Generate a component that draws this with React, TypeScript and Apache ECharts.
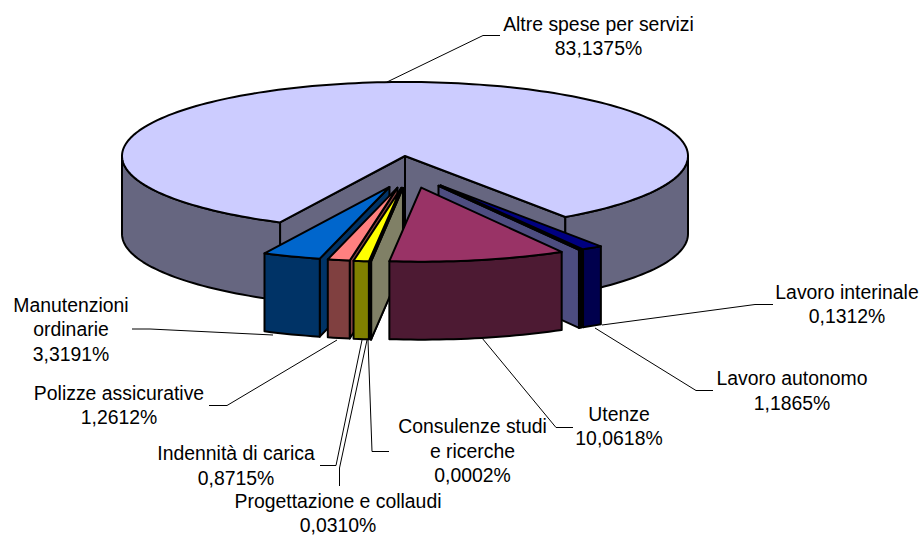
import React, { useEffect, useRef } from "react";
import * as echarts from "echarts";

const sliceNames = [
  "Altre spese per servizi",
  "Lavoro autonomo",
  "Lavoro interinale",
  "Utenze",
  "Consulenze studi e ricerche",
  "Progettazione e collaudi",
  "Indennità di carica",
  "Polizze assicurative",
  "Manutenzioni ordinarie",
];
const sliceValues = [83.1375, 1.1865, 0.1312, 10.0618, 0.0002, 0.031, 0.8715, 1.2612, 3.3191];
const topColors = ["#CCCCFF", "#000080", "#9999FF", "#993366", "#FFFFCC", "#CCFFFF", "#FFFF00", "#FF8080", "#0066CC"];
const sideColors = ["#666680", "#00004D", "#4D4D80", "#4D1A33", "#808066", "#668080", "#808000", "#804040", "#003366"];
const drawOrder = [0, 1, 2, 8, 7, 6, 5, 4, 3];

const labelLines: string[][] = [
  ["Altre spese per servizi"],
  ["Lavoro autonomo"],
  ["Lavoro interinale"],
  ["Utenze"],
  ["Consulenze studi", "e ricerche"],
  ["Progettazione e collaudi"],
  ["Indennità di carica"],
  ["Polizze assicurative"],
  ["Manutenzioni", "ordinarie"],
];
const labelAnchors: number[][] = [
  [598.5, 23.5], [792, 378], [847, 291.5], [619, 413.5], [472.5, 426], [338, 500.5], [236, 453], [119, 392.5], [71, 304.5],
];
const leaders: number[][][] = [
  [[500, 35.5], [483, 35.5], [387, 82]],
  [[713, 390.5], [696, 390.5], [595, 328]],
  [[773, 304.5], [755, 304.5], [602, 325]],
  [[573, 427.5], [556, 427.5], [482, 338]],
  [[389, 451.5], [372, 451.5], [368, 340]],
  [[339.5, 486], [339.5, 468], [367, 340]],
  [[320, 465.5], [336, 465.5], [362, 340]],
  [[209, 405.5], [227, 405.5], [337, 340]],
  [[132, 329], [150, 329], [273, 335]],
];

const CX = 405, CY = 156, RX = 283, RY = 74, DEPTH = 78;
const START_DEG = 206.2, EX = 58, SHIFT_X = 4.5, EY = 17, SHIFT_Y = 15;
const FONT_SIZE = 19.4, LINE_GAP = 24.5;
const rad = (d: number) => (d * Math.PI) / 180;

const total = sliceValues.reduce((a, b) => a + b, 0);
const spans: number[][] = [];
{
  let a = START_DEG;
  sliceValues.forEach((v) => {
    const b = a + (v / total) * 360;
    spans.push([a, b]);
    a = b;
  });
}

function renderSlice(_p: any, api: any) {
  const idx = api.value(0) as number;
  const [a1, a2] = spans[idx];
  const mid = (a1 + a2) / 2;
  const exploded = idx !== 0;
  const ox = CX + (exploded ? SHIFT_X + EX * Math.sin(rad(mid)) : 0);
  const oy = CY + (exploded ? SHIFT_Y - EY * Math.cos(rad(mid)) : 0);
  const pt = (d: number, drop = 0) => [
    ox + RX * Math.sin(rad(d)),
    oy - RY * Math.cos(rad(d)) + drop,
  ];
  const arc = (from: number, to: number, drop = 0) => {
    const pts: number[][] = [];
    const n = Math.max(2, Math.ceil((to - from) / 1.5));
    for (let i = 0; i <= n; i++) pts.push(pt(from + ((to - from) * i) / n, drop));
    return pts;
  };
  const side = sideColors[idx];
  const lineStyle = { stroke: "#000", lineWidth: 2, lineJoin: "round" as const };
  const poly = (points: number[][], fill: string) => ({
    type: "polygon",
    shape: { points },
    style: { fill, ...lineStyle },
  });
  const children: any[] = [];
  const apexTop = [ox, oy];
  const apexBot = [ox, oy + DEPTH];
  // radial walls facing the viewer
  if (Math.sin(rad(a1)) < 0) children.push(poly([apexTop, pt(a1), pt(a1, DEPTH), apexBot], side));
  if (Math.sin(rad(a2)) > 0) children.push(poly([apexTop, pt(a2), pt(a2, DEPTH), apexBot], side));
  // outer rim: only the part in the front half
  const frontRanges: number[][] = [];
  for (const [lo, hi] of [[90, 270], [450, 630]]) {
    const f = Math.max(a1, lo), t = Math.min(a2, hi);
    if (t > f) frontRanges.push([f, t]);
  }
  frontRanges.forEach(([f, t]) => {
    children.push(poly([...arc(f, t), ...arc(f, t, DEPTH).reverse()], side));
  });
  // top face
  children.push(poly([apexTop, ...arc(a1, a2)], topColors[idx]));
  return { type: "group", children };
}

const labelFont = "'Liberation Sans', Arial, sans-serif";
const pct = (v: number) => v.toFixed(4).replace(".", ",") + "%";

export default function App() {
  const ref = useRef<HTMLDivElement>(null);
  useEffect(() => {
    const chart = echarts.init(ref.current!, undefined, { renderer: "svg" });
    const graphics: any[] = [];
    leaders.forEach((points) => {
      graphics.push({
        type: "polyline",
        z: 5,
        shape: { points },
        style: { stroke: "#000", lineWidth: 1, fill: "none" },
      });
    });
    sliceNames.forEach((_n, i) => {
      const lines = [...labelLines[i], pct(sliceValues[i])];
      lines.forEach((t, j) => {
        graphics.push({
          type: "text",
          z: 6,
          x: labelAnchors[i][0],
          y: labelAnchors[i][1] + j * LINE_GAP,
          style: {
            text: t,
            fill: "#000",
            font: `${FONT_SIZE}px ${labelFont}`,
            align: "center",
            verticalAlign: "middle",
          },
        });
      });
    });
    chart.setOption({
      animation: false,
      backgroundColor: "#fff",
      graphic: { elements: graphics },
      series: [
        {
          type: "custom",
          coordinateSystem: "none",
          silent: true,
          renderItem: renderSlice,
          data: drawOrder.map((i) => ({ name: sliceNames[i], value: [i, sliceValues[i]] })),
        },
      ],
    });
    return () => chart.dispose();
  }, []);
  return <div ref={ref} style={{ position: "absolute", left: 0, top: 0, width: 920, height: 535 }} />;
}
